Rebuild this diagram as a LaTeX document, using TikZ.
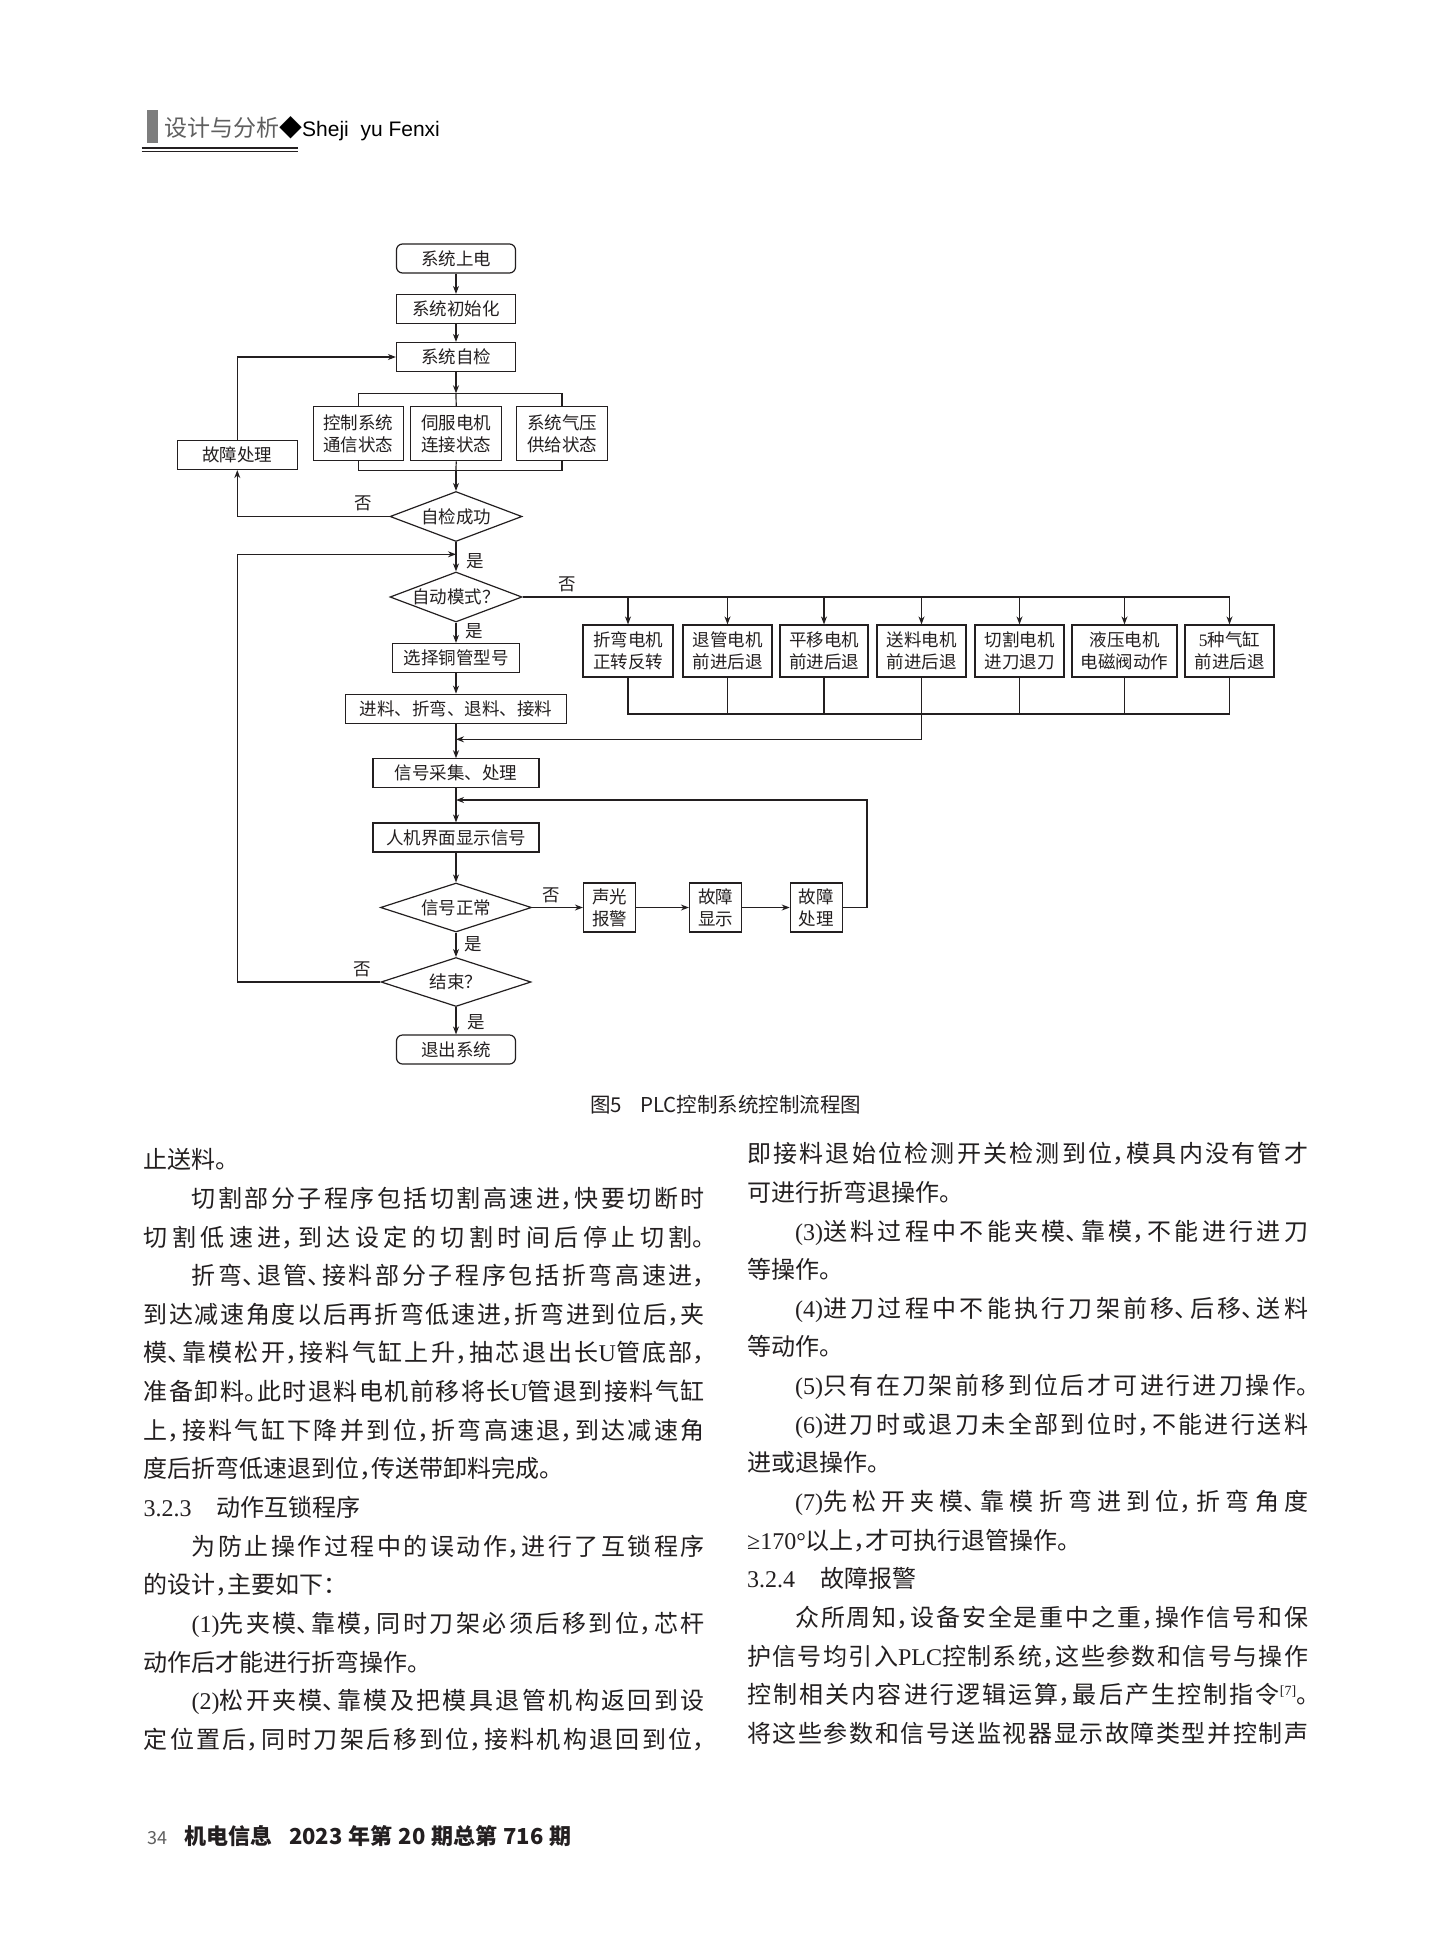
\documentclass[tikz,border=0pt]{standalone}
\usepackage{fontspec}
\setmainfont{Noto Sans CJK SC}
\newfontfamily\bodycjk[RawFeature=+halt]{Noto Sans CJK SC}
\newfontfamily\latserif{Liberation Serif}
\newfontfamily\latsans{Liberation Sans}
\usetikzlibrary{
  shapes.geometric,
  arrows.meta,
  positioning
}
\XeTeXlinebreaklocale "zh"
\XeTeXlinebreakskip=0pt plus 1pt
\hbadness=10000
\definecolor{linecolor}{RGB}{35, 31, 32}
\definecolor{labelcolor}{RGB}{35, 31, 32}
\definecolor{headcolor}{RGB}{95, 95, 95}
\definecolor{barcolor}{RGB}{125, 125, 125}
\newlength{\colwidth}
\setlength{\colwidth}{561pt}
% linhas justificadas (uma linha por paragrafo)
\newcommand{\fullline}[1]{\parbox[b]{\colwidth}{\XeTeXlinebreakskip=0pt plus 1fil\parfillskip=0pt\tolerance=10000\noindent #1}}
\newcommand{\indentline}[1]{\fullline{\hspace*{48pt}#1}}
\newcommand{\rmlat}[1]{{\latserif #1}}
\tikzset{
flowtext/.style={
  font=\fontsize{17.5}{21.7}\selectfont,
  text=labelcolor,
  align=center
},
processbox/.style={
  rectangle,
  draw=linecolor,
  line width=1.2pt,
  minimum height=29pt,
  inner sep=0pt,
  flowtext
},
terminalbox/.style={
  processbox,
  rounded corners=6pt
},
motorbox/.style={
  processbox,
  minimum height=52pt
},
decisionbox/.style={
  diamond,
  aspect=2.6,
  draw=linecolor,
  line width=1.2pt,
  inner xsep=-15pt,
  inner ysep=0pt,
  minimum height=50pt,
  flowtext
},
flowline/.style={
  line width=1.2pt,
  draw=linecolor
},
flowarrow/.style={
  flowline,
  -{Stealth[length=8pt,width=6pt]}
},
branchlabel/.style={
  flowtext,
  inner sep=0pt
},
bodyline/.style={
  anchor=base west,
  inner sep=0pt,
  font=\bodycjk\fontsize{24}{38.6}\selectfont,
  text=labelcolor
}
}

\begin{document}
\begin{tikzpicture}[x=1pt, y=-1pt]

\useasboundingbox (0, 0) rectangle (1431, 1955);
\fill[white] (0, 0) rectangle (1431, 1955);

% ============================================================================
% CABECALHO
% ============================================================================
\fill[barcolor] (146.7, 110) rectangle (158.3, 143.3);
\node[anchor=base west, inner sep=0pt, font=\fontsize{23}{26}\selectfont] (headtitle) at (164, 136.5)
  {{\color{headcolor}设计与分析}◆{\latsans\fontsize{21}{24}\selectfont Sheji\ \ yu Fenxi}};
\draw[line width=2pt, linecolor] (141.7, 147.7) -- (298.3, 147.7);
\draw[line width=0.9pt, linecolor] (141.7, 151.6) -- (298.3, 151.6);

% ============================================================================
% FLUXO PRINCIPAL
% ============================================================================
\node[terminalbox, minimum width=119pt] (poweron) at (456, 258.5) {系统上电};
\node[processbox, minimum width=119pt] (sysinit) at (456, 309) {系统初始化};
\node[processbox, minimum width=119pt] (selfcheck) at (456, 357) {系统自检};

\node[processbox, minimum width=90pt, minimum height=54pt] (commstate) at (358.3, 433.7) {控制系统\\通信状态};
\node[processbox, minimum width=91pt, minimum height=54pt] (servostate) at (456.2, 433.7) {伺服电机\\连接状态};
\node[processbox, minimum width=91pt, minimum height=54pt] (airstate) at (562, 433.7) {系统气压\\供给状态};
\coordinate (splittop) at (456, 393.3);
\coordinate (mergebot) at (456, 470.7);

\node[processbox, minimum width=120pt] (faultfirst) at (237.3, 455) {故障处理};
\node[decisionbox, minimum width=132pt] (checkok) at (456, 516.5) {自检成功};

\draw[flowarrow] (poweron) -- (sysinit);
\draw[flowarrow] (sysinit) -- (selfcheck);
\draw[flowarrow] (selfcheck) -- (splittop);
\draw[flowline] (commstate.north) |- (splittop) -| (airstate.north);
\draw[flowline] (splittop) -- (servostate.north);
\draw[flowline] (commstate.south) |- (mergebot) -| (airstate.south);
\draw[flowline] (servostate.south) -- (mergebot);
\draw[flowarrow] (mergebot) -- (checkok.north);
\draw[flowarrow] (checkok.west) -| (faultfirst.south);
\draw[flowarrow] (faultfirst.north) |- (selfcheck.west);
\node[branchlabel] (nocheck) at (363, 503) {否};

% ============================================================================
% MODO AUTOMATICO
% ============================================================================
\coordinate (loopcorner) at (237.7, 554.3);
\coordinate (loopin) at (456, 554.3);
\node[decisionbox, minimum width=132pt] (automode) at (456, 597) {自动模式？};
\node[processbox, minimum width=127pt] (pipetype) at (456, 658) {选择铜管型号};
\node[processbox, minimum width=221pt] (process) at (456, 708.7) {进料、折弯、退料、接料};
\node[processbox, minimum width=166pt] (sigacq) at (456, 773.3) {信号采集、处理};
\node[processbox, minimum width=166pt] (hmishow) at (456, 837.5) {人机界面显示信号};
\node[decisionbox, minimum width=151pt, minimum height=49pt] (signalok) at (456, 907.5) {信号正常};
\node[decisionbox, minimum width=150pt, minimum height=49pt] (finish) at (456, 982) {结束？};
\node[terminalbox, minimum width=119pt] (quit) at (456, 1049.5) {退出系统};

\draw[flowarrow] (checkok.south) -- (automode.north);
\draw[flowarrow] (automode.south) -- (pipetype.north);
\draw[flowarrow] (pipetype) -- (process);
\draw[flowarrow] (process) -- (sigacq);
\draw[flowarrow] (sigacq) -- (hmishow);
\draw[flowarrow] (hmishow) -- (signalok.north);
\draw[flowarrow] (signalok.south) -- (finish.north);
\draw[flowarrow] (finish.south) -- (quit);
\draw[flowline] (finish.west) -| (loopcorner);
\draw[flowarrow] (loopcorner) -- (loopin);

\node[branchlabel] (yescheck) at (475, 561.7) {是};
\node[branchlabel] (yesauto) at (474, 631.7) {是};
\node[branchlabel] (yessignal) at (473, 944) {是};
\node[branchlabel] (yesfinish) at (476.7, 1022.7) {是};
\node[branchlabel] (nofinish) at (362.7, 969.3) {否};

% ============================================================================
% MODO MANUAL
% ============================================================================
\node[motorbox, minimum width=90pt] (bendmotor) at (628, 651) {折弯电机\\正转反转};
\node[motorbox, minimum width=89pt] (retractmotor) at (727.5, 651) {退管电机\\前进后退};
\node[motorbox, minimum width=88pt] (shiftmotor) at (824, 651) {平移电机\\前进后退};
\node[motorbox, minimum width=89pt] (feedmotor) at (921.5, 651) {送料电机\\前进后退};
\node[motorbox, minimum width=89pt] (cutmotor) at (1019.5, 651) {切割电机\\进刀退刀};
\node[motorbox, minimum width=105pt] (hydmotor) at (1124.5, 651) {液压电机\\电磁阀动作};
\node[motorbox, minimum width=89pt] (cylinders) at (1229.5, 651) {{\latserif 5}种气缸\\前进后退};
\coordinate (manualmerge) at (456, 714);
\coordinate (mergein) at (456, 739.3);

\draw[flowline] (automode.east) -- (automode.east -| cylinders.north);
\draw[flowarrow] (automode.east -| bendmotor.north) -- (bendmotor.north);
\draw[flowarrow] (automode.east -| retractmotor.north) -- (retractmotor.north);
\draw[flowarrow] (automode.east -| shiftmotor.north) -- (shiftmotor.north);
\draw[flowarrow] (automode.east -| feedmotor.north) -- (feedmotor.north);
\draw[flowarrow] (automode.east -| cutmotor.north) -- (cutmotor.north);
\draw[flowarrow] (automode.east -| hydmotor.north) -- (hydmotor.north);
\draw[flowarrow] (automode.east -| cylinders.north) -- (cylinders.north);
\node[branchlabel] (noauto) at (567, 584) {否};

\draw[flowline] (bendmotor.south) |- (manualmerge -| cylinders.south) -- (cylinders.south);
\draw[flowline] (retractmotor.south) -- (retractmotor.south |- manualmerge);
\draw[flowline] (shiftmotor.south) -- (shiftmotor.south |- manualmerge);
\draw[flowline] (cutmotor.south) -- (cutmotor.south |- manualmerge);
\draw[flowline] (hydmotor.south) -- (hydmotor.south |- manualmerge);
\draw[flowarrow] (feedmotor.south) |- (mergein);

% ============================================================================
% TRATAMENTO DE FALHAS
% ============================================================================
\node[processbox, minimum width=52pt, minimum height=49pt] (alarm) at (609.5, 907.5) {声光\\报警};
\node[processbox, minimum width=52pt, minimum height=49pt] (faultshow) at (715.5, 907.5) {故障\\显示};
\node[processbox, minimum width=52pt, minimum height=49pt] (faultfix) at (816.3, 907.5) {故障\\处理};
\coordinate (retin) at (456, 800);

\draw[flowarrow] (signalok.east) -- (alarm.west);
\draw[flowarrow] (alarm) -- (faultshow);
\draw[flowarrow] (faultshow) -- (faultfix);
\draw[flowarrow] (faultfix.east) -- ++(24, 0) |- (retin);
\node[branchlabel] (nosignal) at (551.7, 895) {否};

% legenda da figura
\node[inner sep=0pt, font=\fontsize{20.5}{24}\selectfont, text=labelcolor] (caption) at (725.8, 1105)
  {图5\hspace{18pt}PLC控制系统控制流程图};

% ============================================================================
% TEXTO - COLUNA ESQUERDA
% ============================================================================
\node[bodyline] (left00) at (143.5, 1168.7) {止送料。};
\node[bodyline] (left01) at (143.5, 1207.4) {\indentline{切割部分子程序包括切割高速进，快要切断时}};
\node[bodyline] (left02) at (143.5, 1246.0) {\fullline{切割低速进，到达设定的切割时间后停止切割。}};
\node[bodyline] (left03) at (143.5, 1284.6) {\indentline{折弯、退管、接料部分子程序包括折弯高速进，}};
\node[bodyline] (left04) at (143.5, 1323.3) {\fullline{到达减速角度以后再折弯低速进，折弯进到位后，夹}};
\node[bodyline] (left05) at (143.5, 1361.9) {\fullline{模、靠模松开，接料气缸上升，抽芯退出长\rmlat{U}管底部，}};
\node[bodyline] (left06) at (143.5, 1400.6) {\fullline{准备卸料。此时退料电机前移将长\rmlat{U}管退到接料气缸}};
\node[bodyline] (left07) at (143.5, 1439.2) {\fullline{上，接料气缸下降并到位，折弯高速退，到达减速角}};
\node[bodyline] (left08) at (143.5, 1477.8) {度后折弯低速退到位，传送带卸料完成。};
\node[bodyline] (left09) at (143.5, 1516.5) {\rmlat{3.2.3}\hspace{25pt}动作互锁程序};
\node[bodyline] (left10) at (143.5, 1555.1) {\indentline{为防止操作过程中的误动作，进行了互锁程序}};
\node[bodyline] (left11) at (143.5, 1593.8) {的设计，主要如下：};
\node[bodyline] (left12) at (143.5, 1632.4) {\indentline{\rmlat{(1)}先夹模、靠模，同时刀架必须后移到位，芯杆}};
\node[bodyline] (left13) at (143.5, 1671.0) {动作后才能进行折弯操作。};
\node[bodyline] (left14) at (143.5, 1709.7) {\indentline{\rmlat{(2)}松开夹模、靠模及把模具退管机构返回到设}};
\node[bodyline] (left15) at (143.5, 1748.3) {\fullline{定位置后，同时刀架后移到位，接料机构退回到位，}};

% ============================================================================
% TEXTO - COLUNA DIREITA
% ============================================================================
\node[bodyline] (right00) at (747, 1162.7) {\fullline{即接料退始位检测开关检测到位，模具内没有管才}};
\node[bodyline] (right01) at (747, 1201.3) {可进行折弯退操作。};
\node[bodyline] (right02) at (747, 1240.0) {\indentline{\rmlat{(3)}送料过程中不能夹模、靠模，不能进行进刀}};
\node[bodyline] (right03) at (747, 1278.6) {等操作。};
\node[bodyline] (right04) at (747, 1317.3) {\indentline{\rmlat{(4)}进刀过程中不能执行刀架前移、后移、送料}};
\node[bodyline] (right05) at (747, 1355.9) {等动作。};
\node[bodyline] (right06) at (747, 1394.5) {\indentline{\rmlat{(5)}只有在刀架前移到位后才可进行进刀操作。}};
\node[bodyline] (right07) at (747, 1433.2) {\indentline{\rmlat{(6)}进刀时或退刀未全部到位时，不能进行送料}};
\node[bodyline] (right08) at (747, 1471.8) {进或退操作。};
\node[bodyline] (right09) at (747, 1510.5) {\indentline{\rmlat{(7)}先松开夹模、靠模折弯进到位，折弯角度}};
\node[bodyline] (right10) at (747, 1549.1) {\rmlat{≥170°}以上，才可执行退管操作。};
\node[bodyline] (right11) at (747, 1587.7) {\rmlat{3.2.4}\hspace{25pt}故障报警};
\node[bodyline] (right12) at (747, 1626.4) {\indentline{众所周知，设备安全是重中之重，操作信号和保}};
\node[bodyline] (right13) at (747, 1665.0) {\fullline{护信号均引入\rmlat{PLC}控制系统，这些参数和信号与操作}};
\node[bodyline] (right14) at (747, 1703.7) {\fullline{控制相关内容进行逻辑运算，最后产生控制指令\raisebox{8pt}{\fontsize{14}{16}\selectfont\rmlat{[7]}}。}};
\node[bodyline] (right15) at (747, 1742.3) {\fullline{将这些参数和信号送监视器显示故障类型并控制声}};

% ============================================================================
% RODAPE
% ============================================================================
\node[anchor=base west, inner sep=0pt, font=\fontsize{18}{22}\selectfont, text=headcolor] (pagenum) at (147, 1844.4) {34};
\node[anchor=base west, inner sep=0pt, font=\bfseries\fontsize{22}{24}\selectfont, text=labelcolor] (journal) at (184.5, 1844.4) {机电信息};
\node[anchor=base west, inner sep=0pt, font=\bfseries\fontsize{22}{24}\selectfont, text=labelcolor] (issue) at (289, 1844.4)
  {2023\hspace{6pt}年第\hspace{6pt}20\hspace{6pt}期总第\hspace{6pt}716\hspace{6pt}期};

\end{tikzpicture}
\end{document}
